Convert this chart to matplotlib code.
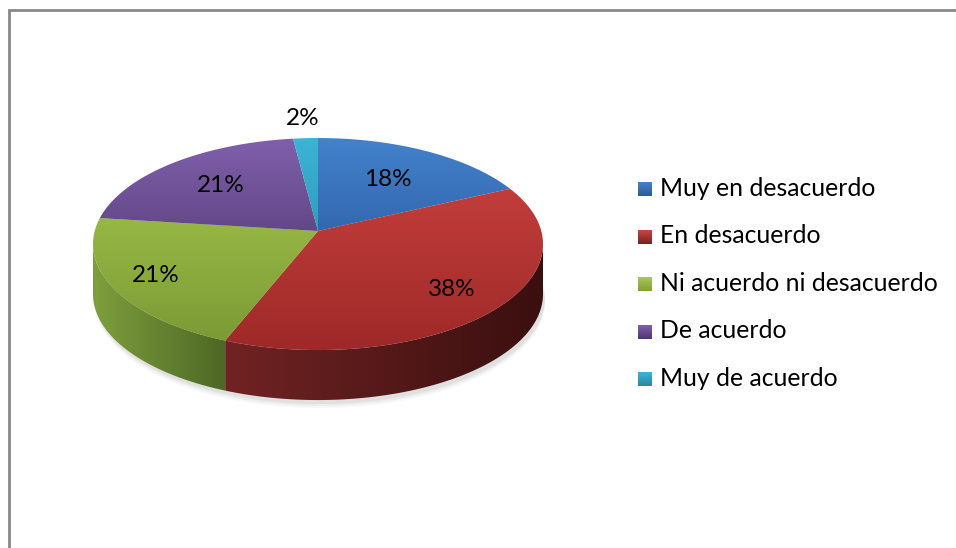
import numpy as np
import matplotlib
matplotlib.use("Agg")
import matplotlib.pyplot as plt
from matplotlib.patches import Polygon
from matplotlib.colors import to_rgb

# datos de la encuesta
categorias = ["Muy en desacuerdo", "En desacuerdo", "Ni acuerdo ni desacuerdo",
              "De acuerdo", "Muy de acuerdo"]
porcentajes = [18, 38, 21, 21, 2]

# colores estilo Excel 2007 (cara superior: arriba / abajo, lateral: izq / der)
col_sup = ["#4382cd", "#cd4441", "#a7cb50", "#8060ac", "#3cb4d6"]
col_inf = ["#1f4786", "#9e2928", "#7b9834", "#3e295a", "#22809e"]
col_lat = [("#2d5a94", "#1e3d66"), ("#712323", "#3a0f0f"), ("#7e9f3d", "#4d6725"),
           ("#4e3670", "#33224a"), ("#2a88a4", "#1c5a6c")]
radio_etq = [0.62, 0.77, 0.8, 0.65, 1.24]

# geometria del pastel (pixeles)
cx, cy = 318, 231
A, B, e = 223.3, 104.4, 0.123
h = 50
y_top, y_bot = cy - B / (1 + e), cy + B / (1 - e)


def proy(theta, r=1.0):
    t = np.radians(theta)
    d = 1 + e * r * np.cos(t)
    return cx + A * r * np.sin(t) / d, cy - B * r * np.cos(t) / d


def relleno(ax, verts, c0, c1, vertical=True, lim=None):
    poly = Polygon(verts, closed=True, fill=False, lw=0, transform=ax.transData)
    ax.add_patch(poly)
    c0, c1 = np.array(to_rgb(c0)), np.array(to_rgb(c1))
    t = np.linspace(0, 1, 256)[:, None]
    grad = c0 * (1 - t) + c1 * t
    if vertical:
        img = grad[:, None, :]
        ext = (verts[:, 0].min() - 2, verts[:, 0].max() + 2, lim[1], lim[0])
    else:
        img = grad[None, :, :]
        ext = (lim[0], lim[1], verts[:, 1].max() + 2, verts[:, 1].min() - 2)
    im = ax.imshow(img, extent=ext, origin="upper", aspect="auto",
                   interpolation="bilinear", zorder=2)
    im.set_clip_path(poly)


fig = plt.figure(figsize=(9.56, 5.48), dpi=100)
ax = fig.add_axes([0, 0, 1, 1])
ax.set_axis_off()

fracs = np.array(porcentajes) / sum(porcentajes)
bordes = np.concatenate([[0], np.cumsum(fracs) * 360])
th_r = np.degrees(np.arccos(-e))
th_l = 360 - th_r

# sombra suave
for k, a in enumerate([0.05, 0.04, 0.03]):
    ts = np.linspace(0, 360, 200)
    xs, ys = proy(ts)
    ax.fill(xs + 2, ys + h + 4 + 2 * k, color="black", alpha=a, lw=0, zorder=1)

# laterales visibles
for i in range(len(porcentajes)):
    a, b = max(bordes[i], th_r), min(bordes[i + 1], th_l)
    if a >= b:
        continue
    ts = np.linspace(a, b, 100)
    xs, ys = proy(ts)
    verts = np.column_stack([np.concatenate([xs, xs[::-1]]),
                             np.concatenate([ys, ys[::-1] + h])])
    relleno(ax, verts, col_lat[i][0], col_lat[i][1], vertical=False,
            lim=(xs.min(), xs.max()))

# caras superiores
for i in range(len(porcentajes)):
    ts = np.linspace(bordes[i], bordes[i + 1], 120)
    xs, ys = proy(ts)
    verts = np.column_stack([np.concatenate([[cx], xs]), np.concatenate([[cy], ys])])
    relleno(ax, verts, col_sup[i], col_inf[i], vertical=True, lim=(y_top, y_bot))

# etiquetas de porcentaje
for i, p in enumerate(porcentajes):
    mid = (bordes[i] + bordes[i + 1]) / 2
    x, y = proy(mid, radio_etq[i])
    ax.text(x, y, f"{p}%", ha="center", va="center", fontsize=17.5,
            family="Lato", color="black", zorder=5)

# leyenda
for i, cat in enumerate(categorias):
    yl = 189 + i * 47.6
    sq = np.array([[638, yl - 7], [652, yl - 7], [652, yl + 7], [638, yl + 7]])
    relleno(ax, sq, col_sup[i], col_lat[i][0], vertical=True, lim=(yl - 7, yl + 7))
    ax.text(660, yl - 1, cat, ha="left", va="center", fontsize=17.8,
            family="Lato", color="black", zorder=5)

# marco del grafico
ax.plot([9, 9, 960], [560, 10, 10], color="#898989", lw=2, zorder=6,
        solid_joinstyle="miter")

ax.set_xlim(0, 956)
ax.set_ylim(548, 0)
fig.savefig("out.png", dpi=100)
